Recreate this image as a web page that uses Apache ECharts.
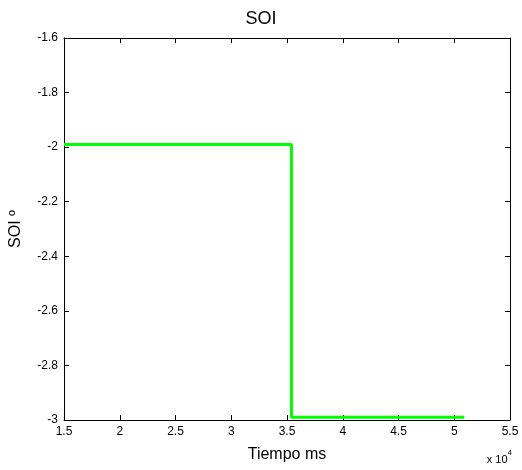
<!DOCTYPE html>
<html>
<head>
    <title>SOI</title>
    <script src="https://cdn.jsdelivr.net/npm/echarts@6/dist/echarts.min.js"></script>
</head>
<body style="margin:0">
    <div id="chart" style="width:522px;height:470px"></div>
    <script>
        // step trace
        var timeMs = [15000, 35400, 35400, 50900];
        var soi = [-1.99, -1.99, -2.99, -2.99];

        var font = 'Liberation Sans, Arial, sans-serif';
        var tickLabel = {color: '#000', fontSize: 12, fontFamily: font};
        var line = {lineStyle: {color: '#000', width: 1}};

        var chart = echarts.init(document.getElementById('chart'));
        chart.setOption({
            animation: false,
            title: {
                text: 'SOI', left: 'center', top: 5,
                textStyle: {fontSize: 18, fontWeight: 'normal', color: '#000', fontFamily: font}
            },
            grid: {left: 64, right: 12, top: 38, bottom: 50},
            xAxis: [{
                type: 'value', min: 15000, max: 55000, interval: 5000,
                name: 'Tiempo ms', nameLocation: 'middle', nameGap: 27,
                nameTextStyle: {fontSize: 16, color: '#000', fontFamily: font},
                axisLine: line,
                axisTick: {inside: true, length: 5, lineStyle: {color: '#000'}},
                axisLabel: Object.assign({formatter: v => String(v / 10000), margin: 6}, tickLabel),
                splitLine: {show: false}
            }, {
                type: 'value', position: 'top', min: 15000, max: 55000, interval: 5000,
                axisLine: line,
                axisTick: {inside: true, length: 5, lineStyle: {color: '#000'}},
                axisLabel: {show: false}, splitLine: {show: false}
            }],
            yAxis: [{
                type: 'value', min: -3, max: -1.6, interval: 0.2,
                name: 'SOI º', nameLocation: 'middle', nameGap: 40,
                nameTextStyle: {fontSize: 16, color: '#000', fontFamily: font},
                axisLine: line,
                axisTick: {inside: true, length: 5, lineStyle: {color: '#000'}},
                axisLabel: Object.assign({formatter: v => String(Math.round(v * 10) / 10), margin: 6}, tickLabel),
                splitLine: {show: false}
            }, {
                type: 'value', position: 'right', min: -3, max: -1.6, interval: 0.2,
                axisLine: line,
                axisTick: {inside: true, length: 5, lineStyle: {color: '#000'}},
                axisLabel: {show: false}, splitLine: {show: false}
            }],
            graphic: [{
                type: 'text', right: 10, top: 449,
                style: {
                    text: '{a|x 10}{b|4}',
                    rich: {
                        a: {fontSize: 11, fontFamily: font, fill: '#000', verticalAlign: 'bottom'},
                        b: {fontSize: 8, fontFamily: font, fill: '#000', verticalAlign: 'top', padding: [0, 0, 8, 0]}
                    }
                }
            }],
            series: [{
                type: 'line',
                data: timeMs.map((t, i) => [t, soi[i]]),
                showSymbol: false,
                lineStyle: {color: '#00ff00', width: 3},
                clip: false
            }]
        });
    </script>
</body>
</html>
